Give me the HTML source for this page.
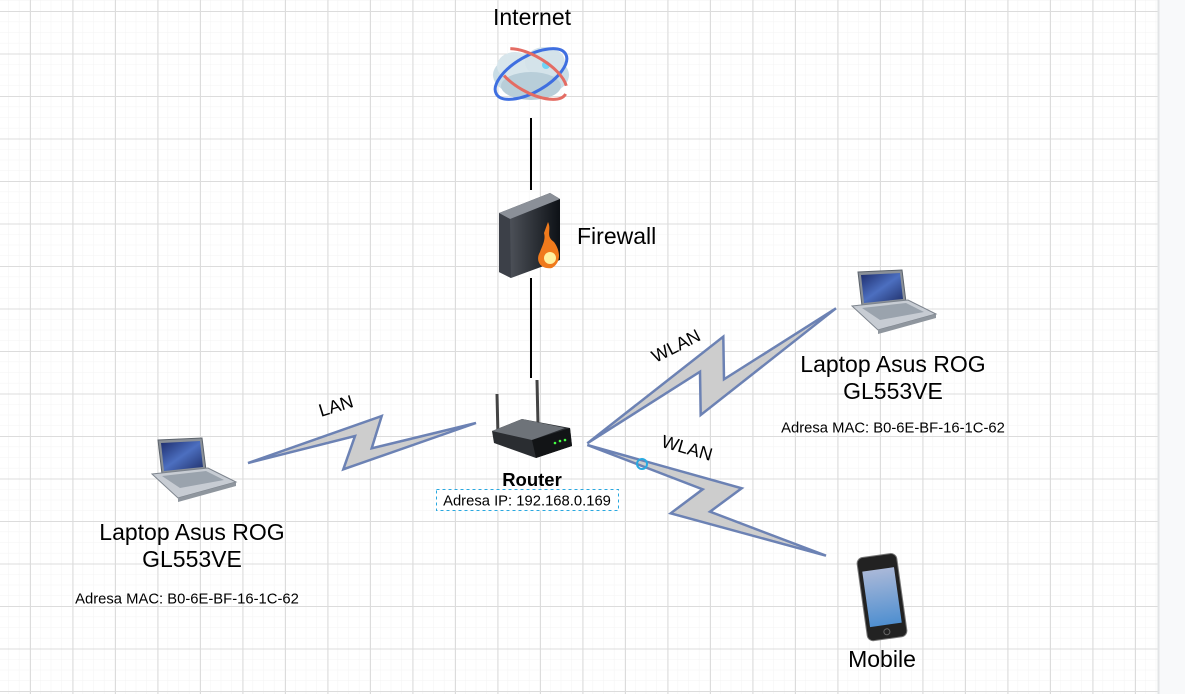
<!DOCTYPE html>
<html><head><meta charset="utf-8"><style>
html,body{margin:0;padding:0;background:#fff;}
svg{display:block;font-family:"Liberation Sans",Arial,sans-serif;}
</style></head><body>
<svg width="1185" height="694" viewBox="0 0 1185 694" xmlns="http://www.w3.org/2000/svg">
<defs>
<pattern id="minor" x="-13" y="11" width="10.625" height="10.625" patternUnits="userSpaceOnUse">
<path d="M0 0H10.625M0 0V10.625" stroke="#f3f3f3" stroke-width="1" fill="none"/>
</pattern>
<pattern id="major" x="30" y="11" width="42.5" height="42.5" patternUnits="userSpaceOnUse">
<path d="M0 0.5H42.5M0.5 0V42.5" stroke="#dcdcdc" stroke-width="1" fill="none"/>
</pattern>
<linearGradient id="scr" x1="0" y1="0" x2="1" y2="1"><stop offset="0" stop-color="#1d2c6b"/><stop offset="0.5" stop-color="#4c6fc0"/><stop offset="1" stop-color="#20306a"/></linearGradient>
<linearGradient id="ph" x1="0" y1="0" x2="0" y2="1"><stop offset="0" stop-color="#a9b8d8"/><stop offset="1" stop-color="#4f8fd0"/></linearGradient>
<linearGradient id="fw" x1="0" y1="0" x2="1" y2="0"><stop offset="0" stop-color="#5a5e66"/><stop offset="1" stop-color="#0d1116"/></linearGradient>
<g id="laptop">
<polygon points="10,4 54,2 58,34 14,38" fill="#8a9098" stroke="#5c636c"/>
<polygon points="13,7 52,5 55,31 16,35" fill="url(#scr)"/>
<polygon points="4,38 60,32 88,46 30,62" fill="#c7ccd3" stroke="#7d848d"/>
<polygon points="14,40 58,35 76,44 32,52" fill="#9aa3ad"/>
<polygon points="30,62 88,46 88,50 30,66" fill="#8f969e"/>
</g>
</defs>
<rect width="1185" height="694" fill="#fff"/>
<rect width="1158" height="694" fill="url(#minor)"/>
<rect width="1158" height="694" fill="url(#major)"/>
<rect x="1158" y="0" width="27" height="694" fill="#f8f9fa"/>
<line x1="1158.5" y1="0" x2="1158.5" y2="694" stroke="#e2e4e6" stroke-width="2"/>

<line x1="531" y1="118" x2="531" y2="190" stroke="#000" stroke-width="2"/>
<line x1="531" y1="278" x2="531" y2="378" stroke="#000" stroke-width="2"/>

<g fill="#cdcdcd" stroke="#6c82b4" stroke-width="2.5" stroke-linejoin="miter">
<polygon points="248,463 381.7,416 371.7,448.3 476,423 343.3,469.3 355,436"/>
<polygon points="587.3,443.3 723.3,336.7 724,379.3 836,308.3 700.7,415 700,371.7"/>
<polygon points="587.3,445 741.7,488.3 710,511.7 826,555.7 670.7,513.3 702.7,489.3"/>
</g>
<circle cx="642" cy="464" r="5" fill="none" stroke="#29a8e0" stroke-width="2"/>

<g>
<ellipse cx="531" cy="75" rx="38" ry="22" fill="#c9dde6"/>
<ellipse cx="515" cy="66" rx="18" ry="14" fill="#d8e6ec"/>
<ellipse cx="545" cy="62" rx="20" ry="15" fill="#d4e3ea"/>
<ellipse cx="531" cy="86" rx="30" ry="14" fill="#b8ced9"/>
<circle cx="546" cy="65" r="4" fill="#6fd3f5"/>
<ellipse cx="531" cy="74" rx="40" ry="18" transform="rotate(-30 531 74)" fill="none" stroke="#3f6fe0" stroke-width="3"/>
<ellipse cx="531" cy="74" rx="40" ry="18" transform="rotate(30 531 74)" fill="none" stroke="#e46c63" stroke-width="3" stroke-dasharray="70 40"/>
</g>

<polygon points="499,213 550,193 560,199 560,260 511,278 499,272" fill="url(#fw)"/>
<polygon points="499,213 550,193 560,199 510,219" fill="#8b9098"/>
<polygon points="499,213 510,219 511,278 499,272" fill="#3c4048"/>
<path d="M548 222 C552 230 545 236 554 242 C560 250 562 262 552 268 C540 270 535 260 540 252 C542 246 546 240 544 233 Z" fill="#f07a1c"/>
<ellipse cx="550" cy="258" rx="6" ry="6" fill="#fff1a0"/>

<line x1="497" y1="394" x2="498" y2="436" stroke="#444" stroke-width="3"/>
<line x1="537" y1="380" x2="538" y2="424" stroke="#444" stroke-width="3"/>
<polygon points="492,431 522,419 570,428 572,446 536,458 494,443" fill="#2a2d31"/>
<polygon points="492,431 522,419 565,428 532,440" fill="#6e7379"/>
<polygon points="532,440 570,428 572,446 536,458" fill="#121416"/>
<circle cx="560" cy="441" r="1.3" fill="#4f4"/><circle cx="565" cy="440" r="1.3" fill="#4f4"/><circle cx="555" cy="443" r="1.3" fill="#4f4"/>

<use href="#laptop" x="148" y="436"/>
<use href="#laptop" x="848" y="268"/>

<g transform="rotate(-8 883 597)">
<rect x="862" y="555" width="40" height="84" rx="6" fill="#222" stroke="#777"/>
<rect x="866" y="569" width="32" height="56" fill="url(#ph)"/>
<circle cx="882" cy="632" r="3" fill="none" stroke="#666"/>
</g>

<g fill="#000">
<text x="532" y="25" font-size="23" text-anchor="middle">Internet</text>
<text x="577" y="244" font-size="23">Firewall</text>
<text x="532" y="486" font-size="18.5" font-weight="bold" text-anchor="middle">Router</text>
<rect x="436.5" y="489.5" width="182" height="21" fill="#fff" stroke="#29a8e0" stroke-dasharray="3 3"/>
<text x="527" y="505.5" font-size="14.8" text-anchor="middle">Adresa IP: 192.168.0.169</text>
<text x="893" y="372" font-size="23" text-anchor="middle">Laptop Asus ROG</text>
<text x="893" y="399" font-size="23" text-anchor="middle">GL553VE</text>
<text x="893" y="432.5" font-size="14.8" text-anchor="middle">Adresa MAC: B0-6E-BF-16-1C-62</text>
<text x="192" y="540" font-size="23" text-anchor="middle">Laptop Asus ROG</text>
<text x="192" y="567" font-size="23" text-anchor="middle">GL553VE</text>
<text x="187" y="603.5" font-size="14.8" text-anchor="middle">Adresa MAC: B0-6E-BF-16-1C-62</text>
<text x="882" y="667" font-size="23" text-anchor="middle">Mobile</text>
<text x="336" y="412" font-size="18" text-anchor="middle" transform="rotate(-17 336 406)">LAN</text>
<text x="676" y="352" font-size="18" text-anchor="middle" transform="rotate(-27 676 346)">WLAN</text>
<text x="687" y="454" font-size="18" text-anchor="middle" transform="rotate(16 687 448)">WLAN</text>
</g>
</svg>
</body></html>
